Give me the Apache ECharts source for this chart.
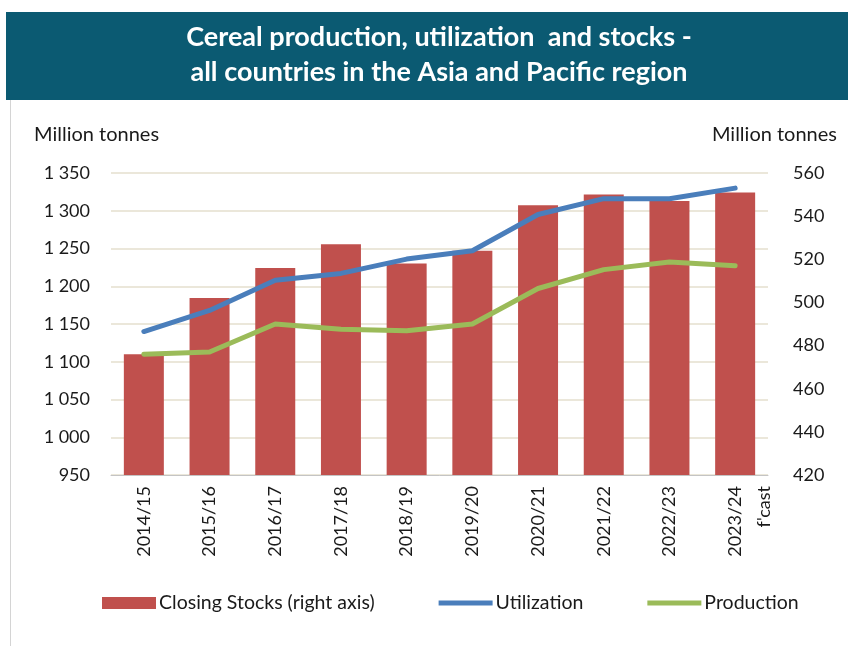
<!DOCTYPE html>
<html>
<head>
<meta charset="utf-8">
<title>Cereal production, utilization and stocks</title>
<script src="https://cdn.jsdelivr.net/npm/echarts@6/dist/echarts.min.js"></script>
<style>
  html, body { margin: 0; padding: 0; background: #ffffff; }
  #main { width: 848px; height: 646px; }
</style>
</head>
<body>
<div id="main"></div>
<script>
// 数据
var years = ['2014/15', '2015/16', '2016/17', '2017/18', '2018/19', '2019/20', '2020/21', '2021/22', '2022/23', '2023/24\nf\'cast']
var closingStocks = [476, 502, 516, 527, 518, 524, 545, 550, 547, 551]
var utilization = [1140, 1168, 1208, 1217, 1236, 1247, 1295, 1316, 1316, 1330]
var production = [1110, 1113, 1150, 1143, 1141, 1150, 1197, 1222, 1232, 1227]

var FONT = 'Lato'
var TXT = '#1a1a1a'
var LINE_ICON = 'path://M0,0 h54 v5 h-54 z'
var LABEL_LH = 29

var myChart = echarts.init(document.getElementById('main'))

myChart.setOption({
    backgroundColor: '#ffffff',
    animation: false,
    textStyle: { fontFamily: FONT },
    title: {
        text: 'Cereal production, utilization  and stocks -\nall countries in the Asia and Pacific region',
        left: 434,
        top: 15,
        textAlign: 'center',
        textStyle: {
            color: '#ffffff',
            fontFamily: FONT,
            fontWeight: 'bold',
            fontSize: 27,
            lineHeight: 35
        }
    },
    graphic: [
        // 标题背景
        { type: 'rect', z: -1, shape: { x: 6, y: 12, width: 842, height: 88 }, style: { fill: '#0b5a72' } },
        { type: 'line', shape: { x1: 10.5, y1: 100, x2: 10.5, y2: 646 }, style: { stroke: '#d4d4d4', lineWidth: 1 } },
        { type: 'text', left: 34, top: 125, style: { text: 'Million tonnes', fill: TXT, font: '20px ' + FONT } },
        { type: 'text', right: 11, top: 125, style: { text: 'Million tonnes', fill: TXT, font: '20px ' + FONT } }
    ],
    legend: {
        left: 97,
        top: 588,
        itemWidth: 54,
        itemHeight: 12,
        itemGap: 64,
        textStyle: { color: TXT, fontSize: 19.5, fontFamily: FONT, padding: [0, 0, 0, -2] },
        data: [
            { name: 'Closing Stocks (right axis)', icon: 'rect' },
            { name: 'Utilization', icon: LINE_ICON },
            { name: 'Production', icon: LINE_ICON }
        ]
    },
    grid: {
        left: 111,
        right: 80,
        top: 173,
        bottom: 171
    },
    xAxis: {
        type: 'category',
        data: years,
        axisLine: { lineStyle: { color: '#c4c4c4', width: 1 } },
        axisTick: { show: false },
        axisLabel: {
            rotate: 90,
            interval: 0,
            margin: 11,
            color: TXT,
            fontSize: 18,
            // 两行的标签：前面垫一行空白，让第一行仍在类目中心
            formatter: function (v) {
                if (v.indexOf('\n') < 0) return v
                var parts = v.split('\n')
                return '{e| }\n{t|' + parts[0] + '}\n{t|' + parts[1] + '}'
            },
            rich: {
                e: { lineHeight: LABEL_LH, fontSize: 18 },
                t: { lineHeight: LABEL_LH, fontSize: 18, color: TXT }
            }
        }
    },
    yAxis: [
        {
            type: 'value',
            min: 950,
            max: 1350,
            interval: 50,
            axisLine: { show: false },
            axisTick: { show: false },
            splitLine: { lineStyle: { color: '#ebe7da', width: 2 } },
            axisLabel: {
                margin: 21,
                color: TXT,
                fontSize: 18,
                formatter: function (v) {
                    return v >= 1000 ? Math.floor(v / 1000) + ' ' + String(v % 1000).padStart(3, '0') : String(v)
                }
            }
        },
        {
            type: 'value',
            min: 420,
            max: 560,
            interval: 20,
            axisLine: { show: false },
            axisTick: { show: false },
            splitLine: { show: false },
            axisLabel: { margin: 25, color: TXT, fontSize: 18 }
        }
    ],
    series: [
        {
            name: 'Closing Stocks (right axis)',
            type: 'bar',
            yAxisIndex: 1,
            barWidth: 40,
            data: closingStocks,
            itemStyle: { color: '#c0504d' }
        },
        {
            name: 'Utilization',
            type: 'line',
            data: utilization,
            symbol: 'none',
            lineStyle: { color: '#4a7ebb', width: 5, cap: 'round', join: 'round' },
            itemStyle: { color: '#4a7ebb' }
        },
        {
            name: 'Production',
            type: 'line',
            data: production,
            symbol: 'none',
            lineStyle: { color: '#9bbb59', width: 5, cap: 'round', join: 'round' },
            itemStyle: { color: '#9bbb59' }
        }
    ]
})
window.addEventListener('resize', myChart.resize)
</script>
</body>
</html>
